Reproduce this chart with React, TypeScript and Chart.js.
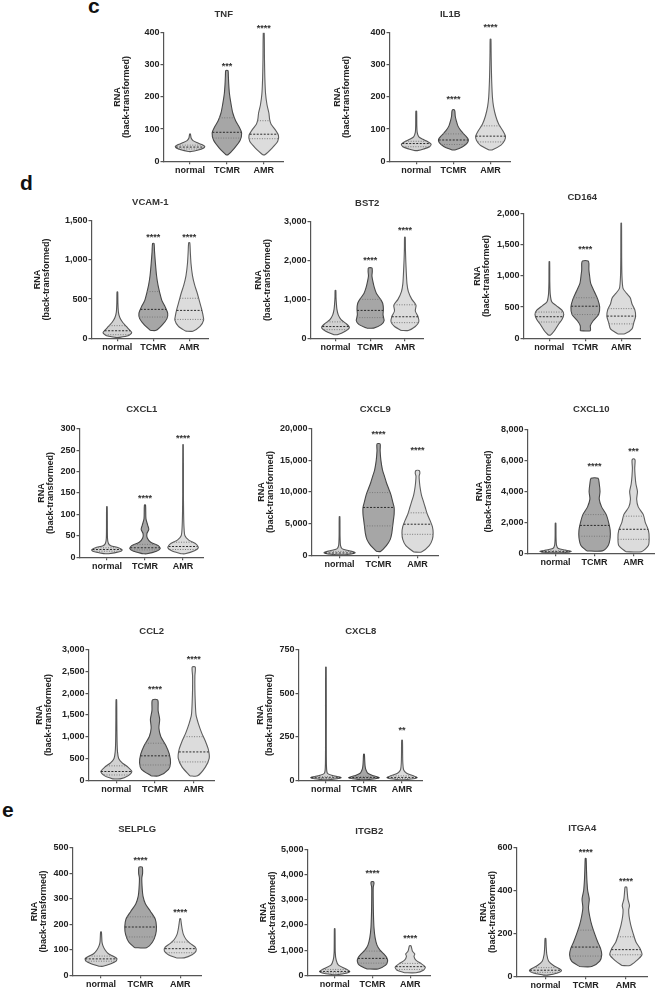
import React, { useEffect, useRef } from 'react';
import { Chart, registerables } from 'chart.js';
Chart.register(...registerables);

const groups = ['normal', 'TCMR', 'AMR'];

// ---- violin profiles: [value, half-width] pairs, bottom to top; quartiles [q1, median, q3]
const tnfViolins = [
  [[30,0.03],[34,0.2],[40,0.36],[46,0.4],[52,0.32],[58,0.18],[64,0.08],[72,0.03],[85,0.01]],
  [[20,0.03],[40,0.2],[65,0.36],[88,0.4],[105,0.34],[125,0.24],[150,0.16],[180,0.11],[210,0.07],[240,0.05],[265,0.04],[282,0.03]],
  [[20,0.03],[40,0.22],[62,0.38],[80,0.4],[100,0.3],[115,0.2],[130,0.16],[150,0.14],[175,0.09],[210,0.05],[260,0.03],[320,0.02],[400,0.012]],
];
const tnfQuart = [[38,44,50],[72,90,135],[70,84,126]];
const tnfStars = ['', '***', '****'];
const tnfStarY = [0, 304, 422];

const il1bViolins = [
  [[33,0.03],[38,0.2],[45,0.36],[53,0.4],[60,0.32],[68,0.18],[76,0.07],[90,0.025],[110,0.015],[156,0.01]],
  [[35,0.04],[45,0.25],[58,0.38],[68,0.4],[80,0.32],[95,0.2],[110,0.12],[125,0.08],[140,0.05],[155,0.04],[160,0.02]],
  [[35,0.04],[50,0.28],[65,0.38],[78,0.4],[95,0.33],[115,0.22],[140,0.14],[170,0.08],[200,0.05],[250,0.03],[300,0.02],[340,0.015],[380,0.01]],
];
const il1bQuart = [[45,55,62],[52,66,85],[60,78,110]];
const il1bStars = ['', '****', '****'];
const il1bStarY = [0, 200, 425];

const vcamViolins = [
  [[10,0.05],[30,0.3],[70,0.4],[110,0.33],[150,0.25],[200,0.15],[260,0.07],[330,0.03],[450,0.015],[590,0.01]],
  [[100,0.08],[170,0.25],[250,0.38],[320,0.4],[400,0.33],[480,0.24],[580,0.18],[680,0.13],[800,0.09],[950,0.06],[1100,0.035],[1210,0.02]],
  [[90,0.1],[150,0.3],[230,0.4],[300,0.38],[380,0.34],[480,0.28],[580,0.22],[680,0.15],[800,0.09],[950,0.05],[1100,0.03],[1220,0.015]],
];
const vcamQuart = [[45,95,160],[270,368,595],[240,355,510]];
const vcamStars = ['', '****', '****'];
const vcamStarY = [0, 1320, 1320];

const bst2Violins = [
  [[90,0.05],[180,0.28],[280,0.4],[380,0.3],[480,0.16],[600,0.08],[750,0.04],[900,0.025],[1050,0.015],[1230,0.01]],
  [[260,0.1],[350,0.32],[450,0.4],[600,0.37],[750,0.38],[900,0.36],[1000,0.3],[1150,0.18],[1300,0.12],[1450,0.08],[1600,0.05],[1720,0.06],[1810,0.05]],
  [[200,0.1],[300,0.3],[420,0.4],[550,0.38],[700,0.3],[850,0.32],[1000,0.2],[1200,0.1],[1400,0.06],[1700,0.04],[2000,0.025],[2300,0.015],[2600,0.01]],
];
const bst2Quart = [[220,300,420],[530,716,1000],[400,552,860]];
const bst2Stars = ['', '****', '****'];
const bst2StarY = [0, 2070, 2840];

const cd164Violins = [
  [[50,0.03],[120,0.14],[220,0.25],[300,0.35],[380,0.4],[450,0.35],[520,0.2],[580,0.07],[700,0.025],[900,0.012],[1230,0.008]],
  [[120,0.14],[200,0.14],[280,0.22],[380,0.37],[500,0.4],[620,0.35],[750,0.25],[880,0.15],[1000,0.12],[1100,0.1],[1200,0.1],[1240,0.08]],
  [[70,0.1],[150,0.3],[250,0.35],[350,0.4],[450,0.38],[550,0.3],[650,0.25],[720,0.15],[800,0.05],[1000,0.02],[1300,0.012],[1850,0.008]],
];
const cd164Quart = [[260,345,420],[380,514,650],[230,355,475]];
const cd164Stars = ['', '****', ''];
const cd164StarY = [0, 1460, 0];

const cxcl1Violins = [
  [[8,0.05],[12,0.3],[17,0.4],[22,0.3],[27,0.1],[32,0.04],[45,0.015],[118,0.008]],
  [[8,0.05],[14,0.3],[20,0.4],[27,0.35],[35,0.15],[45,0.06],[55,0.05],[65,0.1],[75,0.07],[90,0.025],[122,0.015]],
  [[8,0.05],[15,0.3],[22,0.4],[30,0.35],[40,0.15],[50,0.05],[70,0.025],[100,0.015],[150,0.01],[263,0.008]],
];
const cxcl1Quart = [[14,18,22],[17,22,30],[18,25,35]];
const cxcl1Stars = ['', '****', '****'];
const cxcl1StarY = [0, 143, 283];

const cxcl9Violins = [
  [[50,0.05],[200,0.3],[400,0.4],[700,0.25],[1000,0.07],[1500,0.025],[3000,0.012],[6100,0.008]],
  [[600,0.05],[1500,0.2],[2500,0.3],[3500,0.34],[4500,0.36],[5500,0.38],[6500,0.4],[7500,0.4],[8500,0.36],[9500,0.32],[10500,0.26],[11500,0.2],[12500,0.15],[13500,0.1],[15000,0.06],[16500,0.04],[17600,0.04]],
  [[500,0.1],[1500,0.3],[2500,0.38],[3500,0.4],[4500,0.38],[5500,0.32],[6500,0.25],[7500,0.2],[8500,0.15],[9500,0.1],[10500,0.07],[11500,0.05],[12500,0.04],[13000,0.06],[13400,0.04]],
];
const cxcl9Quart = [[200,350,600],[4630,7550,9900],[3300,4900,6700]];
const cxcl9Stars = ['', '****', '****'];
const cxcl9StarY = [0, 19400, 16900];

const cxcl10Violins = [
  [[20,0.05],[60,0.3],[120,0.4],[200,0.25],[300,0.07],[500,0.025],[1000,0.012],[1950,0.008]],
  [[150,0.2],[500,0.35],[1000,0.4],[1500,0.4],[2000,0.36],[2500,0.3],[3000,0.18],[3500,0.12],[4000,0.14],[4500,0.12],[4850,0.09]],
  [[100,0.2],[500,0.38],[1000,0.4],[1500,0.38],[2000,0.3],[2500,0.25],[3000,0.12],[3500,0.08],[4000,0.1],[4500,0.06],[5000,0.04],[5500,0.03],[6000,0.04],[6100,0.02]],
];
const cxcl10Quart = [[60,100,160],[1100,1800,2500],[900,1550,2400]];
const cxcl10Stars = ['', '****', '***'];
const cxcl10StarY = [0, 5780, 6760];

const ccl2Violins = [
  [[30,0.1],[100,0.3],[200,0.4],[300,0.3],[400,0.15],[500,0.06],[650,0.03],[900,0.018],[1400,0.012],[1850,0.008]],
  [[100,0.1],[250,0.35],[400,0.4],[600,0.37],[800,0.28],[1000,0.15],[1200,0.1],[1400,0.12],[1600,0.08],[1800,0.08],[1850,0.06]],
  [[100,0.1],[300,0.3],[500,0.4],[700,0.38],[900,0.3],[1100,0.2],[1300,0.12],[1500,0.06],[1800,0.04],[2100,0.03],[2400,0.03],[2600,0.04]],
];
const ccl2Quart = [[120,200,330],[350,560,850],[420,650,1000]];
const ccl2Stars = ['', '****', '****'];
const ccl2StarY = [0, 2150, 2830];

const cxcl8Violins = [
  [[2,0.05],[8,0.3],[15,0.4],[25,0.2],[40,0.04],[80,0.015],[200,0.01],[650,0.008]],
  [[2,0.05],[8,0.3],[15,0.4],[25,0.25],[40,0.1],[60,0.05],[80,0.03],[110,0.02],[150,0.01]],
  [[2,0.05],[8,0.3],[15,0.4],[25,0.3],[40,0.12],[60,0.04],[100,0.02],[150,0.015],[230,0.01]],
];
const cxcl8Quart = [[10,14,20],[10,15,22],[10,16,25]];
const cxcl8Stars = ['', '', '**'];
const cxcl8StarY = [0, 0, 300];

const selplgViolins = [
  [[35,0.05],[45,0.25],[55,0.38],[65,0.4],[75,0.3],[85,0.18],[100,0.1],[115,0.05],[130,0.025],[170,0.01]],
  [[108,0.15],[130,0.3],[160,0.38],[190,0.4],[220,0.37],[250,0.25],[280,0.12],[310,0.06],[340,0.04],[380,0.03],[400,0.05],[424,0.04]],
  [[68,0.1],[80,0.3],[95,0.4],[110,0.38],[125,0.25],[140,0.15],[160,0.08],[180,0.05],[200,0.03],[222,0.01]],
];
const selplgQuart = [[55,64,75],[150,189,229],[88,104,130]];
const selplgStars = ['', '****', '****'];
const selplgStarY = [0, 460, 256];

const itgb2Violins = [
  [[20,0.05],[80,0.3],[150,0.4],[250,0.3],[400,0.1],[600,0.04],[900,0.015],[1850,0.008]],
  [[250,0.15],[400,0.35],[550,0.4],[700,0.38],[850,0.3],[1000,0.2],[1200,0.12],[1500,0.07],[1900,0.04],[2500,0.025],[3000,0.02],[3500,0.02],[3650,0.04],[3720,0.03]],
  [[100,0.15],[200,0.35],[320,0.4],[450,0.3],[600,0.15],[750,0.1],[850,0.12],[950,0.06],[1170,0.02]],
];
const itgb2Quart = [[90,150,230],[480,670,960],[230,340,470]];
const itgb2Stars = ['', '****', '****'];
const itgb2StarY = [0, 4150, 1570];

const itga4Violins = [
  [[5,0.05],[15,0.3],[25,0.4],[35,0.35],[50,0.2],[70,0.08],[100,0.035],[140,0.018],[176,0.01]],
  [[45,0.15],[70,0.35],[100,0.4],[130,0.37],[160,0.3],[200,0.22],[240,0.15],[280,0.1],[320,0.07],[360,0.09],[400,0.05],[450,0.03],[500,0.02],[550,0.01]],
  [[50,0.1],[70,0.25],[100,0.4],[130,0.35],[160,0.25],[200,0.18],[240,0.12],[280,0.08],[310,0.07],[330,0.09],[360,0.05],[400,0.03],[416,0.02]],
];
const itga4Quart = [[18,28,40],[94,136,215],[100,124,184]];
const itga4Stars = ['', '****', '****'];
const itga4StarY = [0, 589, 454];

// ---- style
const FONT = '"Liberation Sans", Arial, sans-serif';
const FILL = ['#d2d2d2', '#a6a6a6', '#dcdcdc'];
const EDGE = ['#555555', '#474747', '#5e5e5e'];
const AXIS = '#555555';
const TEXT = '#222222';

// layout: ax = y-axis pixel x, top = pixel y of max tick, zero = pixel y of 0, pw = plot width,
// ty = title centre y, yt = distance from axis to 2nd y-title line
const panels = [
  { title: 'TNF', yMax: 400, yStep: 100, v: tnfViolins, q: tnfQuart, s: tnfStars, sy: tnfStarY, ax: 163, top: 33, zero: 161, pw: 120, ty: 15, yt: 37 },
  { title: 'IL1B', yMax: 400, yStep: 100, v: il1bViolins, q: il1bQuart, s: il1bStars, sy: il1bStarY, ax: 389, top: 33, zero: 161, pw: 121, ty: 15, yt: 43 },
  { title: 'VCAM-1', yMax: 1500, yStep: 500, v: vcamViolins, q: vcamQuart, s: vcamStars, sy: vcamStarY, ax: 91, top: 221, zero: 338, pw: 117, ty: 203, yt: 45 },
  { title: 'BST2', yMax: 3000, yStep: 1000, v: bst2Violins, q: bst2Quart, s: bst2Stars, sy: bst2StarY, ax: 310, top: 222, zero: 338, pw: 113, ty: 204, yt: 43 },
  { title: 'CD164', yMax: 2000, yStep: 500, v: cd164Violins, q: cd164Quart, s: cd164Stars, sy: cd164StarY, ax: 523, top: 214, zero: 338, pw: 117, ty: 198, yt: 37 },
  { title: 'CXCL1', yMax: 300, yStep: 50, v: cxcl1Violins, q: cxcl1Quart, s: cxcl1Stars, sy: cxcl1StarY, ax: 79, top: 429, zero: 557, pw: 124, ty: 410, yt: 29 },
  { title: 'CXCL9', yMax: 20000, yStep: 5000, v: cxcl9Violins, q: cxcl9Quart, s: cxcl9Stars, sy: cxcl9StarY, ax: 311, top: 429, zero: 555, pw: 127, ty: 410, yt: 41 },
  { title: 'CXCL10', yMax: 8000, yStep: 2000, v: cxcl10Violins, q: cxcl10Quart, s: cxcl10Stars, sy: cxcl10StarY, ax: 527, top: 430, zero: 553, pw: 127, ty: 410, yt: 39 },
  { title: 'CCL2', yMax: 3000, yStep: 500, v: ccl2Violins, q: ccl2Quart, s: ccl2Stars, sy: ccl2StarY, ax: 88, top: 650, zero: 780, pw: 126, ty: 632, yt: 40 },
  { title: 'CXCL8', yMax: 750, yStep: 250, v: cxcl8Violins, q: cxcl8Quart, s: cxcl8Stars, sy: cxcl8StarY, ax: 298, top: 650, zero: 780, pw: 124, ty: 632, yt: 29 },
  { title: 'SELPLG', yMax: 500, yStep: 100, v: selplgViolins, q: selplgQuart, s: selplgStars, sy: selplgStarY, ax: 72, top: 848, zero: 975, pw: 129, ty: 830, yt: 29 },
  { title: 'ITGB2', yMax: 5000, yStep: 1000, v: itgb2Violins, q: itgb2Quart, s: itgb2Stars, sy: itgb2StarY, ax: 307, top: 850, zero: 975, pw: 123, ty: 832, yt: 35 },
  { title: 'ITGA4', yMax: 600, yStep: 200, v: itga4Violins, q: itga4Quart, s: itga4Stars, sy: itga4StarY, ax: 516, top: 848, zero: 976, pw: 131, ty: 829, yt: 24 },
];

const letters = [
  { t: 'c', left: 88, top: -4 },
  { t: 'd', left: 20, top: 173 },
  { t: 'e', left: 2, top: 800 },
];

function widthAt(prof: number[][], v: number): number {
  if (v <= prof[0][0]) return prof[0][1];
  for (let i = 1; i < prof.length; i++) {
    if (v <= prof[i][0]) {
      const [v0, w0] = prof[i - 1];
      const [v1, w1] = prof[i];
      return w0 + ((v - v0) / (v1 - v0)) * (w1 - w0);
    }
  }
  return prof[prof.length - 1][1];
}

const starPlugin = {
  id: 'sigStars',
  afterDatasetsDraw(chart: any, _args: any, opts: any) {
    const { ctx, scales } = chart;
    ctx.save();
    ctx.font = `bold 9px ${FONT}`;
    ctx.fillStyle = '#333';
    ctx.textAlign = 'center';
    ctx.textBaseline = 'alphabetic';
    (opts.labels || []).forEach((s: string, i: number) => {
      if (!s) return;
      ctx.fillText(s, scales.x.getPixelForValue(i), scales.y.getPixelForValue(opts.values[i]) + 5);
    });
    ctx.restore();
  },
};

function buildConfig(def: any): any {
  const datasets: any[] = [];
  def.v.forEach((prof: number[][], i: number) => {
    const left = prof.map(([val, w]) => ({ x: i - w, y: val }));
    const right = prof.slice().reverse().map(([val, w]) => ({ x: i + w, y: val }));
    datasets.push({
      type: 'line',
      data: [...left, ...right, left[0]],
      fill: 'shape',
      backgroundColor: FILL[i],
      borderColor: EDGE[i],
      borderWidth: 1.1,
      pointRadius: 0,
      tension: 0.25,
      order: 2,
    });
    def.q[i].forEach((qv: number, k: number) => {
      const w = widthAt(prof, qv);
      datasets.push({
        type: 'line',
        data: [{ x: i - w, y: qv }, { x: i + w, y: qv }],
        borderColor: k === 1 ? '#2a2a2a' : '#7a7a7a',
        borderDash: k === 1 ? [2, 1.5] : [1, 1.5],
        borderWidth: 1,
        pointRadius: 0,
        fill: false,
        order: 1,
      });
    });
  });
  const tickFont = { family: FONT, size: 9, weight: 'bold' as const };
  return {
    type: 'line',
    data: { datasets },
    plugins: [starPlugin],
    options: {
      animation: false,
      responsive: false,
      maintainAspectRatio: false,
      events: [],
      layout: { padding: 0 },
      plugins: {
        legend: { display: false },
        tooltip: { enabled: false },
        title: {
          display: true,
          text: def.title,
          fullSize: false,
          color: '#333',
          font: { family: FONT, size: 9.5, weight: 'bold', lineHeight: 1.2 },
          padding: { top: 0, bottom: def.top - def.ty - 5.7 },
        },
        sigStars: { labels: def.s, values: def.sy },
      },
      scales: {
        x: {
          type: 'linear',
          min: -0.72,
          max: 2.55,
          afterBuildTicks: (s: any) => {
            s.ticks = [0, 1, 2].map((v) => ({ value: v }));
          },
          ticks: {
            callback: (v: any) => groups[v] ?? '',
            font: tickFont,
            color: TEXT,
            padding: 1,
            maxRotation: 0,
            autoSkip: false,
          },
          grid: { display: true, drawOnChartArea: false, drawTicks: true, tickLength: 3, color: AXIS, lineWidth: 1.2 },
          border: { display: true, color: AXIS, width: 1.2 },
        },
        y: {
          type: 'linear',
          min: 0,
          max: def.yMax,
          ticks: {
            stepSize: def.yStep,
            callback: (v: any) => Number(v).toLocaleString('en-US'),
            font: tickFont,
            color: TEXT,
            padding: 1,
          },
          grid: { display: true, drawOnChartArea: false, drawTicks: true, tickLength: 3, color: AXIS, lineWidth: 1.2 },
          border: { display: true, color: AXIS, width: 1.2 },
          title: {
            display: true,
            text: ['RNA', '(back-transformed)'],
            color: TEXT,
            font: { family: FONT, size: 9, weight: 'bold', lineHeight: 1.0 },
            padding: { top: 0, bottom: 0 },
          },
          afterFit: (s: any) => {
            s.width = def.yt + 13.5;
          },
        },
      },
    },
  };
}

function Panel({ def }: { def: any }) {
  const wrapRef = useRef<HTMLDivElement>(null);
  const canvasRef = useRef<HTMLCanvasElement>(null);
  useEffect(() => {
    const canvas = canvasRef.current!;
    const wrap = wrapRef.current!;
    const create = (w: number, h: number) => {
      canvas.width = w;
      canvas.height = h;
      canvas.style.width = w + 'px';
      canvas.style.height = h + 'px';
      return new Chart(canvas, buildConfig(def));
    };
    const h0 = def.zero - def.ty + 40;
    let ch = create(def.pw + 80, h0);
    const a = ch.chartArea;
    const xh = h0 - a.bottom;
    const w = Math.round(a.left + def.pw);
    const h = Math.round(a.top + (def.zero - def.top) + xh);
    ch.destroy();
    ch = create(w, h);
    const b = ch.chartArea;
    wrap.style.left = Math.round(def.ax - b.left) + 'px';
    wrap.style.top = Math.round(def.top - b.top) + 'px';
    return () => ch.destroy();
  }, [def]);
  return (
    <div ref={wrapRef} style={{ position: 'absolute', left: 0, top: 0 }}>
      <canvas ref={canvasRef} />
    </div>
  );
}

export default function App() {
  return (
    <div
      style={{
        position: 'absolute',
        left: 0,
        top: 0,
        width: 658,
        height: 991,
        overflow: 'hidden',
        background: '#ffffff',
      }}
    >
      {letters.map((l) => (
        <div
          key={l.t}
          style={{
            position: 'absolute',
            left: l.left,
            top: l.top,
            font: `bold 21px ${FONT}`,
            lineHeight: '20px',
            color: '#111',
          }}
        >
          {l.t}
        </div>
      ))}
      {panels.map((p) => (
        <Panel key={p.title} def={p} />
      ))}
    </div>
  );
}
